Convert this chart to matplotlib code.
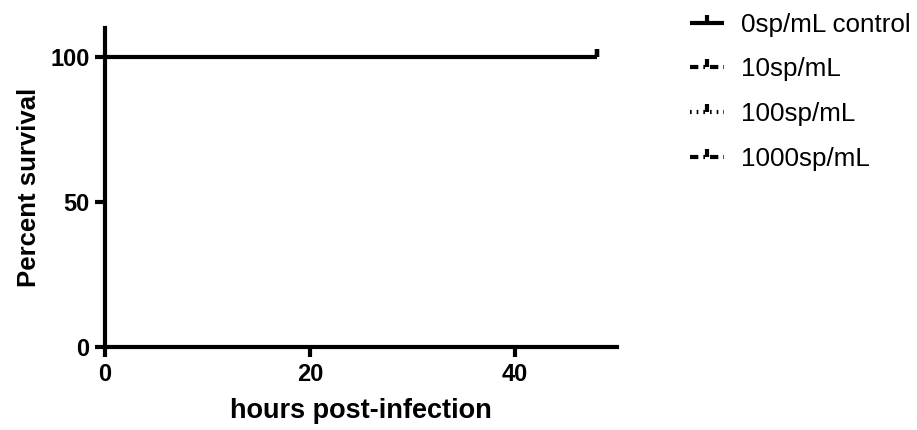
import matplotlib.pyplot as plt

# データ (hours post-infection vs percent survival)
hours = [0, 48]
groups = ["0sp/mL control", "10sp/mL", "100sp/mL", "1000sp/mL"]
survival = {
    "0sp/mL control": [100, 100],
    "10sp/mL": [100, 100],
    "100sp/mL": [100, 100],
    "1000sp/mL": [100, 100],
}
xticks = [0, 20, 40]
yticks = [0, 50, 100]

plt.rcParams['font.family'] = ['Liberation Sans', 'DejaVu Sans']

fig = plt.figure(figsize=(9.17, 4.30), dpi=100)
ax = fig.add_axes([0.1145, 0.193, 0.5585, 0.742])

styles = {
    "0sp/mL control": '-',
    "10sp/mL": (0, (2, 1.2, 0.4, 1.2)),
    "100sp/mL": (0, (0.4, 1.2)),
    "1000sp/mL": (0, (2, 1.2, 0.4, 1.2)),
}

# コントロールを最後に描いて上に重ねる
order = groups[1:] + groups[:1]
handles = {}
for i, g in enumerate(order):
    ln, = ax.plot(hours, survival[g], drawstyle='steps-post', color='black',
                  linewidth=3 if g == groups[0] else 2.6, linestyle=styles[g],
                  marker=2, markersize=6, markeredgewidth=3,
                  markevery=[len(hours) - 1], label=g, zorder=2 + i,
                  solid_capstyle='butt', dash_capstyle='butt')
    handles[g] = ln

ax.set_xlim(0, 50)
ax.set_ylim(0, 110)
ax.set_xticks(xticks)
ax.set_yticks(yticks)
for side in ['top', 'right']:
    ax.spines[side].set_visible(False)
for side in ['left', 'bottom']:
    ax.spines[side].set_linewidth(3)
ax.tick_params(width=3, length=7, labelsize=17, pad=4)
ax.tick_params(axis='x', pad=4.5)
for lbl in ax.get_xticklabels() + ax.get_yticklabels():
    lbl.set_fontweight('bold')

ax.set_xlabel('hours post-infection', fontsize=19.5, fontweight='bold', labelpad=9)
ax.set_ylabel('Percent survival', fontsize=18.5, fontweight='bold', labelpad=7)

leg = fig.legend([handles[g] for g in groups], groups, loc='upper left',
                 bbox_to_anchor=(0.727, 1.025), frameon=False, fontsize=18.7,
                 handlelength=1.3, handletextpad=0.65, numpoints=1,
                 labelspacing=0.8)
for h in leg.legend_handles:
    h.set_linewidth(3)

plt.savefig('out.png', dpi=100)
